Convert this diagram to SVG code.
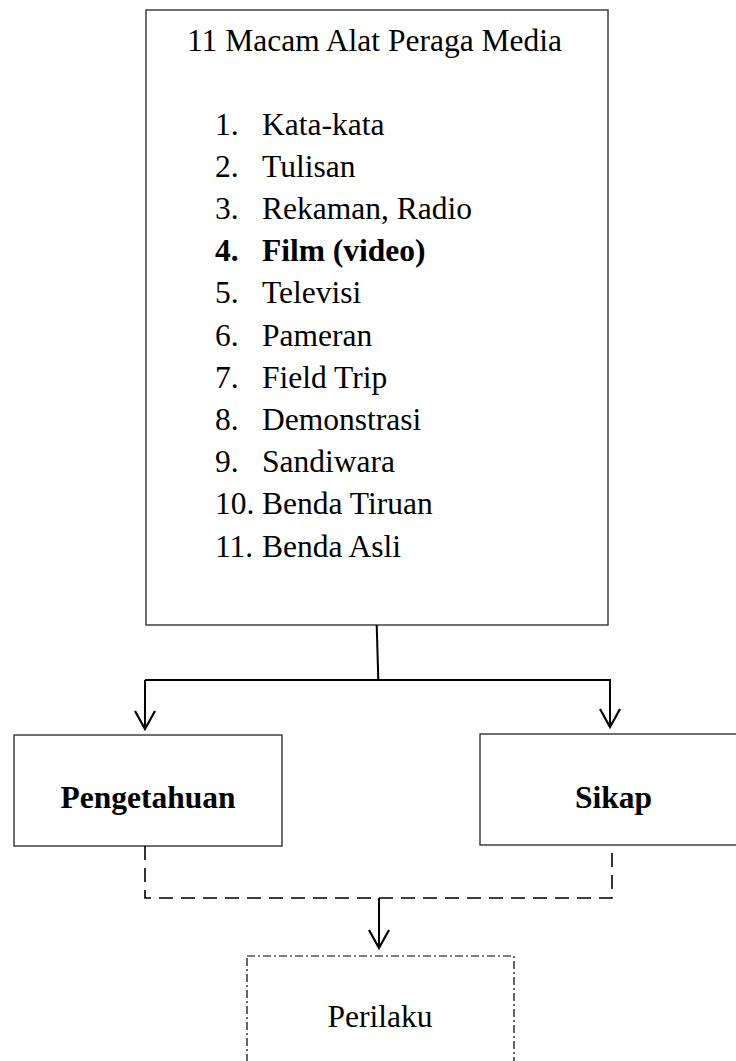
<svg xmlns="http://www.w3.org/2000/svg" width="736" height="1061" viewBox="0 0 736 1061">
<style>
text{font-family:"Liberation Serif","Times New Roman",serif;font-size:31.5px;fill:#000}
.b{font-weight:bold}
.box{fill:#fff;stroke:#333;stroke-width:1.4}
.conn{fill:none;stroke:#000;stroke-width:2}
.dash{fill:none;stroke:#000;stroke-width:1.6;stroke-dasharray:14 8}
.dd{fill:#fff;stroke:#000;stroke-width:1.2;stroke-dasharray:8 3 2 3}
</style>
<defs>
<marker id="arr" markerWidth="24" markerHeight="22" refX="11" refY="19" orient="0" markerUnits="userSpaceOnUse">
<path d="M1,1 L11,19 L21,1" fill="none" stroke="#000" stroke-width="2.2"/>
</marker>
</defs>
<rect width="736" height="1061" fill="#fff"/>
<g id="media">
<rect class="box" x="146" y="10" width="462" height="615"/>
<text x="187" y="51">11 Macam Alat Peraga Media</text>
<g>
<text x="215" y="134.5">1.</text><text x="262" y="134.5">Kata-kata</text>
<text x="215" y="176.7">2.</text><text x="262" y="176.7">Tulisan</text>
<text x="215" y="218.9">3.</text><text x="262" y="218.9">Rekaman, Radio</text>
<text class="b" x="215" y="261.1">4.</text><text class="b" x="262" y="261.1">Film (video)</text>
<text x="215" y="303.3">5.</text><text x="262" y="303.3">Televisi</text>
<text x="215" y="345.5">6.</text><text x="262" y="345.5">Pameran</text>
<text x="215" y="387.7">7.</text><text x="262" y="387.7">Field Trip</text>
<text x="215" y="429.9">8.</text><text x="262" y="429.9">Demonstrasi</text>
<text x="215" y="472.1">9.</text><text x="262" y="472.1">Sandiwara</text>
<text x="215" y="514.3">10.</text><text x="262" y="514.3">Benda Tiruan</text>
<text x="215" y="556.5">11.</text><text x="262" y="556.5">Benda Asli</text>
</g>
</g>
<g id="pengetahuan">
<rect class="box" x="14" y="735" width="268" height="111"/>
<text class="b" x="148" y="808" text-anchor="middle">Pengetahuan</text>
</g>
<g id="sikap">
<rect class="box" x="480" y="734" width="268" height="111"/>
<text class="b" x="613.5" y="808" text-anchor="middle">Sikap</text>
</g>
<g id="perilaku">
<rect class="dd" x="247" y="956" width="267" height="130"/>
<text x="380" y="1027" text-anchor="middle">Perilaku</text>
</g>
<g id="connectors">
<path class="conn" d="M376.7,625 L378.3,680"/>
<path class="conn" d="M145,680 L610,680 L610,727" marker-end="url(#arr)"/>
<path class="conn" d="M145,680 L145,729" marker-end="url(#arr)"/>
<path class="dash" d="M145,846 L145,898 L612,898 L612,845"/>
<path class="conn" d="M379,898 L379,948" marker-end="url(#arr)"/>
</g>
</svg>
